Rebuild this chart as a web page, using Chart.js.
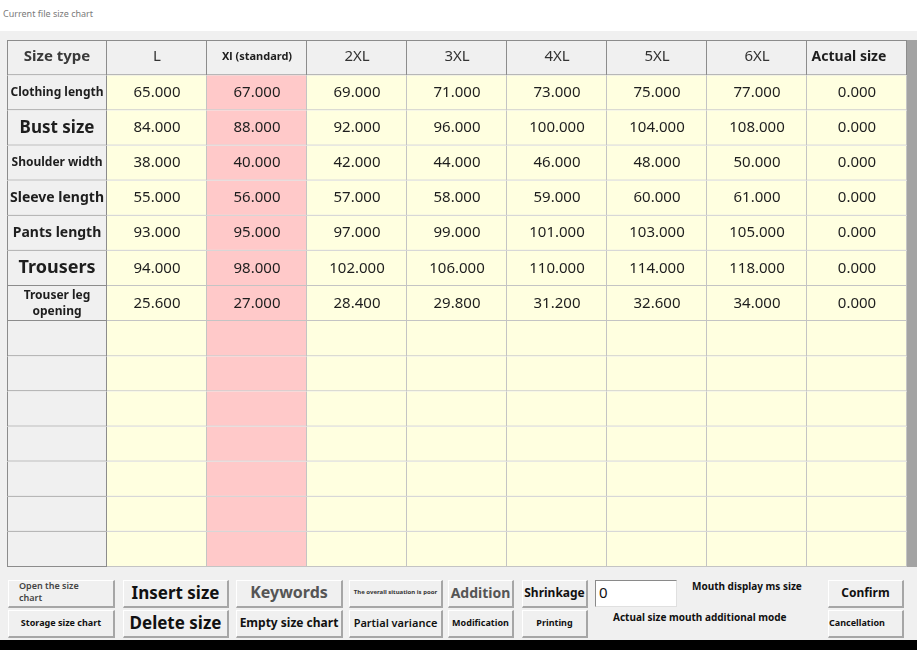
<!DOCTYPE html>
<html>
<head>
<meta charset="utf-8">
<script src="https://cdn.jsdelivr.net/npm/chart.js@4.4.1/dist/chart.umd.min.js"></script>
<style>
	body { margin: 0; width: 917px; height: 650px; background: #f0f0f0; position: relative; overflow: hidden; font-family: 'Noto Sans', sans-serif; }
	.topband { position: absolute; left: 0; top: 0; width: 917px; height: 31px; background: #fff; }
	.title { position: absolute; left: 3px; top: 7px; font-size: 9px; color: #7a7a7a; }
	#tableWrap { position: absolute; left: 7px; top: 40px; width: 900px; height: 527px; }
	.scrollbar { position: absolute; left: 907px; top: 40px; width: 10px; height: 527px; background: #a3a3a3; }
	.blackband { position: absolute; left: 0; top: 640px; width: 917px; height: 10px; background: #000; }
	.btn { position: absolute; box-sizing: border-box; height: 28px; padding-bottom: 3px; border-top: 1px solid #fff; border-left: 1px solid #fff; border-right: 2px solid #a6a6a6; border-bottom: 2px solid #a6a6a6; background: #f0f0f0; display: flex; align-items: center; justify-content: center; font-weight: bold; color: #111; white-space: nowrap; }
	.r1 { top: 580px; }
	.r2 { top: 610px; }
	.lbl { position: absolute; font-size: 10px; font-weight: bold; color: #111; white-space: nowrap; }
	.input { position: absolute; left: 595px; top: 580px; width: 82px; height: 27px; box-sizing: border-box; background: #fff; border-top: 1px solid #8a8a8a; border-left: 1px solid #8a8a8a; border-right: 1px solid #e0e0e0; border-bottom: 1px solid #e0e0e0; font-size: 15px; line-height: 22px; padding-left: 3px; color: #111; }
</style>
</head>
<body>
<div class="topband"></div>
<div class="title">Current file size chart</div>
<div id="tableWrap"><canvas id="sizeChart" width="900" height="527"></canvas></div>
<div class="scrollbar"></div>

<div class="btn r1" style="left:8px;width:107px;font-size:9px;font-weight:600;color:#444;justify-content:flex-start;padding-left:10px;white-space:normal;line-height:12px;">Open the size<br>chart</div>
<div class="btn r2" style="left:8px;width:107px;font-size:9px;">Storage size chart</div>
<div class="btn r1" style="left:123px;width:106px;font-size:17px;">Insert size</div>
<div class="btn r2" style="left:123px;width:106px;font-size:17px;">Delete size</div>
<div class="btn r1" style="left:236px;width:107px;font-size:16px;color:#555;">Keywords</div>
<div class="btn r2" style="left:236px;width:107px;font-size:12px;">Empty size chart</div>
<div class="btn r1" style="left:349px;width:94px;font-size:6px;color:#333;">The overall situation is poor</div>
<div class="btn r2" style="left:349px;width:94px;font-size:11px;font-weight:600;">Partial variance</div>
<div class="btn r1" style="left:448px;width:66px;font-size:14px;color:#555;">Addition</div>
<div class="btn r2" style="left:448px;width:66px;font-size:9px;">Modification</div>
<div class="btn r1" style="left:522px;width:66px;font-size:12px;">Shrinkage</div>
<div class="btn r2" style="left:522px;width:66px;font-size:9px;">Printing</div>
<div class="input">0</div>
<div class="lbl" style="left:692px;top:579px;">Mouth display ms size</div>
<div class="lbl" style="left:613px;top:610px;">Actual size mouth additional mode</div>
<div class="btn r1" style="left:828px;width:76px;font-size:12px;">Confirm</div>
<div class="btn r2" style="left:828px;width:76px;font-size:9px;justify-content:flex-start;padding-left:0;">Cancellation</div>
<div class="blackband"></div>

<script>
// table contents
const sizeLabels = ['L', 'Xl (standard)', '2XL', '3XL', '4XL', '5XL', '6XL'];
const measureLabels = ['Clothing length', 'Bust size', 'Shoulder width', 'Sleeve length', 'Pants length', 'Trousers', 'Trouser leg\nopening'];
const clothingLength = [65, 67, 69, 71, 73, 75, 77];
const bustSize = [84, 88, 92, 96, 100, 104, 108];
const shoulderWidth = [38, 40, 42, 44, 46, 48, 50];
const sleeveLength = [55, 56, 57, 58, 59, 60, 61];
const pantsLength = [93, 95, 97, 99, 101, 103, 105];
const trousers = [94, 98, 102, 106, 110, 114, 118];
const legOpening = [25.6, 27, 28.4, 29.8, 31.2, 32.6, 34];
const actualSize = [0, 0, 0, 0, 0, 0, 0];
const emptyRowCount = 7;

// styles
const labelFontSizes = [12, 17, 12, 14, 14, 18, 12];
const standardCol = 2;

var columns = ['Size type'].concat(sizeLabels, ['Actual size']);
var measureValues = [clothingLength, bustSize, shoulderWidth, sleeveLength, pantsLength, trousers, legOpening];
var rowCount = 1 + measureLabels.length + emptyRowCount;

function cellText(r, c) {
	if (r === 0) return columns[c];
	var m = r - 1;
	if (m >= measureLabels.length) return '';
	if (c === 0) return measureLabels[m];
	if (c === columns.length - 1) return actualSize[m].toFixed(3);
	return measureValues[m][c - 1].toFixed(3);
}

function cellFill(r, c) {
	if (r === 0 || c === 0) return '#f0f0f0';
	if (c === standardCol) return '#ffc9c9';
	return '#ffffe0';
}

var datasets = [];
for (var r = 0; r < rowCount; r++) {
	datasets.push({
		label: 'row' + r,
		data: columns.map(function () { return [r, r + 1]; }),
		backgroundColor: (function (row) {
			return function (ctx) { return cellFill(row, ctx.dataIndex); };
		})(r),
		borderColor: (function (row) {
			return function (ctx) { return (row === 0 || ctx.dataIndex === 0) ? '#8c8c8c' : '#c4c4c4'; };
		})(r),
		borderWidth: (function (row) {
			return function (ctx) {
				return { top: row === 0 ? 1 : 0, left: ctx.dataIndex === 0 ? 1 : 0, right: 1, bottom: 1 };
			};
		})(r),
	});
}

var cellTextPlugin = {
	id: 'cellText',
	afterDatasetsDraw: function (chart) {
		var ctx = chart.ctx;
		var xs = chart.scales.x;
		var ys = chart.scales.y;
		ctx.save();
		ctx.textBaseline = 'middle';
		for (var r = 0; r < rowCount; r++) {
			for (var c = 0; c < columns.length; c++) {
				var txt = cellText(r, c);
				if (!txt) continue;
				var x = xs.getPixelForValue(c);
				var y = ys.getPixelForValue(r + 0.5);
				ctx.textAlign = 'center';
				ctx.fillStyle = '#1e1e1e';
				if (r === 0) {
					if (c === 0) { ctx.font = 'bold 15px "Noto Sans"'; ctx.fillStyle = '#3a3a3a'; }
					else if (c === standardCol) ctx.font = 'bold 11px "Noto Sans"';
					else if (c === columns.length - 1) { ctx.font = 'bold 14px "Noto Sans"'; x -= 8; }
					else { ctx.font = '15px "Noto Sans"'; ctx.fillStyle = '#333'; }
					y -= 1;
				} else if (c === 0) {
					ctx.font = 'bold ' + labelFontSizes[r - 1] + 'px "Noto Sans"';
				} else {
					ctx.font = '15px "Noto Sans"';
				}
				var lines = txt.split('\n');
				var lh = 16;
				for (var i = 0; i < lines.length; i++) {
					ctx.fillText(lines[i], x, y + (i - (lines.length - 1) / 2) * lh);
				}
			}
		}
		ctx.restore();
	},
};

var sizeChart = new Chart(document.getElementById('sizeChart'), {
	type: 'bar',
	data: {
		labels: columns,
		datasets: datasets,
	},
	options: {
		responsive: false,
		animation: false,
		layout: { padding: 0 },
		datasets: {
			bar: {
				grouped: false,
				barPercentage: 1,
				categoryPercentage: 1,
				borderSkipped: false,
				inflateAmount: 0,
			},
		},
		plugins: {
			legend: { display: false },
			tooltip: { enabled: false },
		},
		scales: {
			x: {
				type: 'category',
				offset: true,
				display: false,
			},
			y: {
				type: 'linear',
				min: 0,
				max: rowCount,
				reverse: true,
				display: false,
			},
		},
	},
	plugins: [cellTextPlugin],
});
</script>
</body>
</html>
